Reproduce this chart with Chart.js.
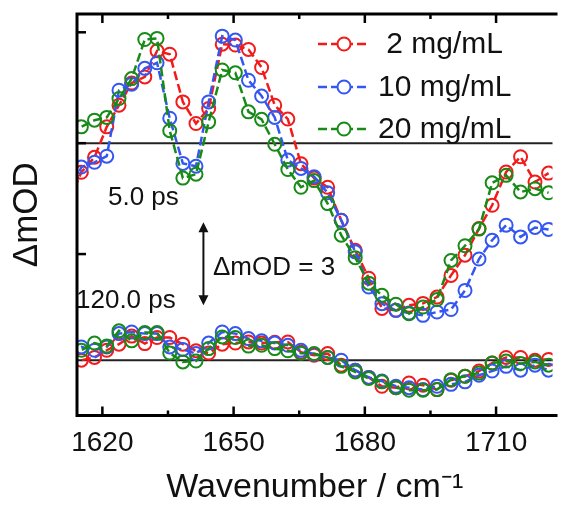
<!DOCTYPE html>
<html>
<head>
<meta charset="utf-8">
<script src="https://cdn.jsdelivr.net/npm/chart.js@4.4.0/dist/chart.umd.min.js"></script>
<style>
html, body { margin: 0; padding: 0; background: #fff; }
</style>
</head>
<body>
<canvas id="c" width="561" height="505"></canvas>
<script>
// wavenumber axis (cm-1)
const wavenumbers = [1612.4, 1615.2, 1618.2, 1621.0, 1623.8, 1626.7, 1629.7, 1632.5, 1635.4, 1638.4,
    1641.4, 1644.3, 1647.4, 1650.4, 1653.4, 1656.4, 1659.4, 1662.4, 1665.4, 1668.4,
    1671.5, 1674.6, 1677.8, 1680.9, 1683.9, 1687.1, 1690.1, 1693.3, 1696.5, 1699.7,
    1702.9, 1706.1, 1709.1, 1712.3, 1715.6, 1718.9, 1722.0];

// 5.0 ps spectra (mOD)
const red5 = [-2.06, -1.05, -0.51, 0.59, 1.37, 2.17, 2.39, 3.33, 3.21, 1.49, 0.71, 1.25, 3.57, 3.54, 3.38, 2.73, 1.37, 0.87, -0.74, -1.26,
    -1.59, -2.78, -3.86, -4.87, -5.96, -6.03, -5.85, -5.78, -5.55, -4.77, -4.04, -3.08, -2.24, -1.04, -0.49, -1.40, -1.08];
const blue5 = [-1.88, -0.86, -0.69, -0.47, 1.91, 2.13, 2.70, 2.90, 0.90, -0.73, -0.83, 1.49, 3.86, 3.72, 2.27, 1.70, 0.93, -0.61, -0.91, -1.21,
    -1.79, -2.78, -3.92, -5.19, -5.79, -6.03, -6.13, -6.21, -6.09, -6.00, -5.31, -4.18, -3.50, -2.96, -3.38, -3.04, -3.11];
const green5 = [0.47, 0.59, 0.83, 0.93, 1.61, 2.33, 3.74, 3.78, 0.45, -1.26, -1.12, 0.77, 2.64, 2.54, 1.13, 0.86, -0.04, -0.95, -1.59, -1.35,
    -2.18, -3.32, -4.13, -5.05, -5.49, -5.81, -6.15, -5.91, -5.64, -4.23, -3.70, -3.10, -1.43, -1.16, -1.76, -1.64, -1.79];

// 120.0 ps spectra (mOD), drawn shifted down by offset120
const red120 = [-0.07, 0, 0.10, 0.36, 0.58, 0.87, 0.60, 0.82, 0.82, 0.58, 0.34, 0.26, 0.58, 0.62, 0.66, 0.62, 0.65, 0.66, 0.29, 0.18,
    0.24, -0.18, -0.36, -0.62, -0.94, -0.99, -0.82, -0.90, -1.06, -0.72, -0.58, -0.39, -0.10, 0.10, 0.10, 0, 0.03];
const blue120 = [0.29, 0.48, 0.36, 0.48, 0.96, 1.02, 0.96, 0.96, 0.48, 0.39, 0.24, 0.62, 1.02, 0.96, 0.78, 0.70, 0.62, 0.54, 0.36, 0.22,
    0.10, 0, -0.36, -0.62, -0.75, -0.94, -0.99, -1.06, -0.94, -0.87, -0.78, -0.54, -0.39, -0.22, -0.36, -0.18, -0.36];
const green120 = [0.29, 0.36, 0.62, 0.51, 1.06, 0.70, 1.00, 1.00, 0.26, -0.06, -0.03, 0.42, 0.84, 0.82, 0.51, 0.54, 0.42, 0.34, 0.25, 0.24,
    0.10, -0.22, -0.42, -0.66, -0.78, -0.99, -1.08, -1.08, -1.06, -0.70, -0.58, -0.46, -0.10, -0.03, -0.12, -0.06, -0.18];

const offset120 = -7.83;
const labels = ["2 mg/mL", "10 mg/mL", "20 mg/mL"];
const colors = ["#f21a1a", "#3457f2", "#178a17"];
const xTickValues = [1620, 1635, 1650, 1665, 1680, 1695, 1710];
const yTickValues = [4, 0, -4];
const delayLabels = ["5.0 ps", "120.0 ps"];

const FONT = "'Liberation Sans', Arial, sans-serif";

function toPoints(arr, shift) {
    return arr.map((v, i) => ({ x: wavenumbers[i], y: v + shift }));
}

function makeSet(arr, shift, k) {
    return {
        label: labels[k],
        data: toPoints(arr, shift),
        borderColor: colors[k],
        pointBorderColor: colors[k],
        pointBackgroundColor: "rgba(255,255,255,0)",
        borderWidth: 2.5,
        borderDash: [9, 4],
        pointRadius: 6.5,
        pointBorderWidth: 2,
        fill: false,
        tension: 0,
        order: 2 - k
    };
}

const framePlugin = {
    id: "frame",
    beforeDatasetsDraw(chart) {
        const ctx = chart.ctx, a = chart.chartArea, y = chart.scales.y;
        ctx.save();
        ctx.strokeStyle = "#222";
        ctx.lineWidth = 2;
        [0, offset120].forEach(v => {
            const py = y.getPixelForValue(v);
            ctx.beginPath();
            ctx.moveTo(a.left, py);
            ctx.lineTo(a.right, py);
            ctx.stroke();
        });
        ctx.restore();
    },
    afterDraw(chart) {
        const ctx = chart.ctx, a = chart.chartArea, x = chart.scales.x, y = chart.scales.y;
        ctx.save();
        ctx.strokeStyle = "#000";
        ctx.lineWidth = 3;
        ctx.beginPath();
        ctx.moveTo(a.right + 5, a.top);
        ctx.lineTo(a.left, a.top);
        ctx.lineTo(a.left, a.bottom);
        ctx.lineTo(a.right + 5, a.bottom);
        ctx.stroke();

        ctx.lineWidth = 2.5;
        xTickValues.forEach(v => {
            const px = x.getPixelForValue(v);
            const len = (v % 30 === 0) ? 9 : 5;
            ctx.beginPath();
            ctx.moveTo(px, a.bottom);
            ctx.lineTo(px, a.bottom - len);
            ctx.moveTo(px, a.top);
            ctx.lineTo(px, a.top + len);
            ctx.stroke();
        });
        yTickValues.forEach(v => {
            const py = y.getPixelForValue(v);
            ctx.beginPath();
            ctx.moveTo(a.left, py);
            ctx.lineTo(a.left + 9, py);
            ctx.stroke();
        });

        // delay labels and scale arrow
        ctx.fillStyle = "#111";
        ctx.font = "26px " + FONT;
        ctx.textBaseline = "middle";
        ctx.textAlign = "left";
        ctx.fillText(delayLabels[0], 108, 198);
        ctx.fillText(delayLabels[1], 76, 301);

        const ax = x.getPixelForValue(1643.1);
        const y1 = y.getPixelForValue(-2.85), y2 = y.getPixelForValue(-5.85);
        ctx.strokeStyle = "#111";
        ctx.lineWidth = 2;
        ctx.beginPath();
        ctx.moveTo(ax, y1 + 6);
        ctx.lineTo(ax, y2 - 6);
        ctx.stroke();
        ctx.beginPath();
        ctx.moveTo(ax, y1); ctx.lineTo(ax - 5, y1 + 10); ctx.lineTo(ax + 5, y1 + 10); ctx.closePath();
        ctx.moveTo(ax, y2); ctx.lineTo(ax - 5, y2 - 10); ctx.lineTo(ax + 5, y2 - 10); ctx.closePath();
        ctx.fill();
        ctx.fillText("\u0394mOD = 3", 213, 268);

        // legend
        const rows = [44, 87, 129];
        ctx.font = "30px " + FONT;
        labels.forEach((t, k) => {
            const ry = rows[k];
            ctx.strokeStyle = colors[k];
            ctx.lineWidth = 2.5;
            ctx.setLineDash([9, 4]);
            ctx.beginPath();
            ctx.moveTo(318, ry);
            ctx.lineTo(370, ry);
            ctx.stroke();
            ctx.setLineDash([]);
            ctx.fillStyle = "#fff";
            ctx.lineWidth = 2;
            ctx.beginPath();
            ctx.arc(344, ry, 6.5, 0, Math.PI * 2);
            ctx.fill();
            ctx.stroke();
            ctx.fillStyle = "#111";
            ctx.fillText(t.length < 8 ? " " + t : t, 378, ry + 1);
        });
        ctx.restore();
    }
};

new Chart("c", {
    type: "line",
    data: {
        datasets: [
            makeSet(red5, 0, 0), makeSet(blue5, 0, 1), makeSet(green5, 0, 2),
            makeSet(red120, offset120, 0), makeSet(blue120, offset120, 1), makeSet(green120, offset120, 2)
        ]
    },
    options: {
        responsive: false,
        animation: false,
        devicePixelRatio: 1,
        layout: { padding: { left: 0, top: 14, right: 0, bottom: 0 } },
        plugins: { legend: { display: false }, tooltip: { enabled: false } },
        scales: {
            x: {
                type: "linear",
                min: 1614.2,
                max: 1722.9,
                grid: { display: false, drawTicks: false },
                border: { display: false },
                ticks: {
                    stepSize: 15,
                    includeBounds: false,
                    autoSkip: false,
                    maxRotation: 0,
                    padding: 11,
                    color: "#111",
                    font: { size: 28, family: FONT },
                    callback: v => (v % 30 === 0 ? String(v) : "")
                },
                title: {
                    display: true,
                    text: "Wavenumber / cm\u207B\u00B9",
                    color: "#111",
                    font: { size: 34, family: FONT, lineHeight: 1.0 },
                    padding: { top: 0, bottom: 0 }
                }
            },
            y: {
                min: -9.82,
                max: 4.66,
                grid: { display: false, drawTicks: false },
                border: { display: false },
                ticks: { display: false },
                title: {
                    display: true,
                    text: "\u0394mOD",
                    color: "#111",
                    font: { size: 35, family: FONT },
                    padding: { top: 6, bottom: 29 }
                }
            }
        }
    },
    plugins: [framePlugin]
});
</script>
</body>
</html>
